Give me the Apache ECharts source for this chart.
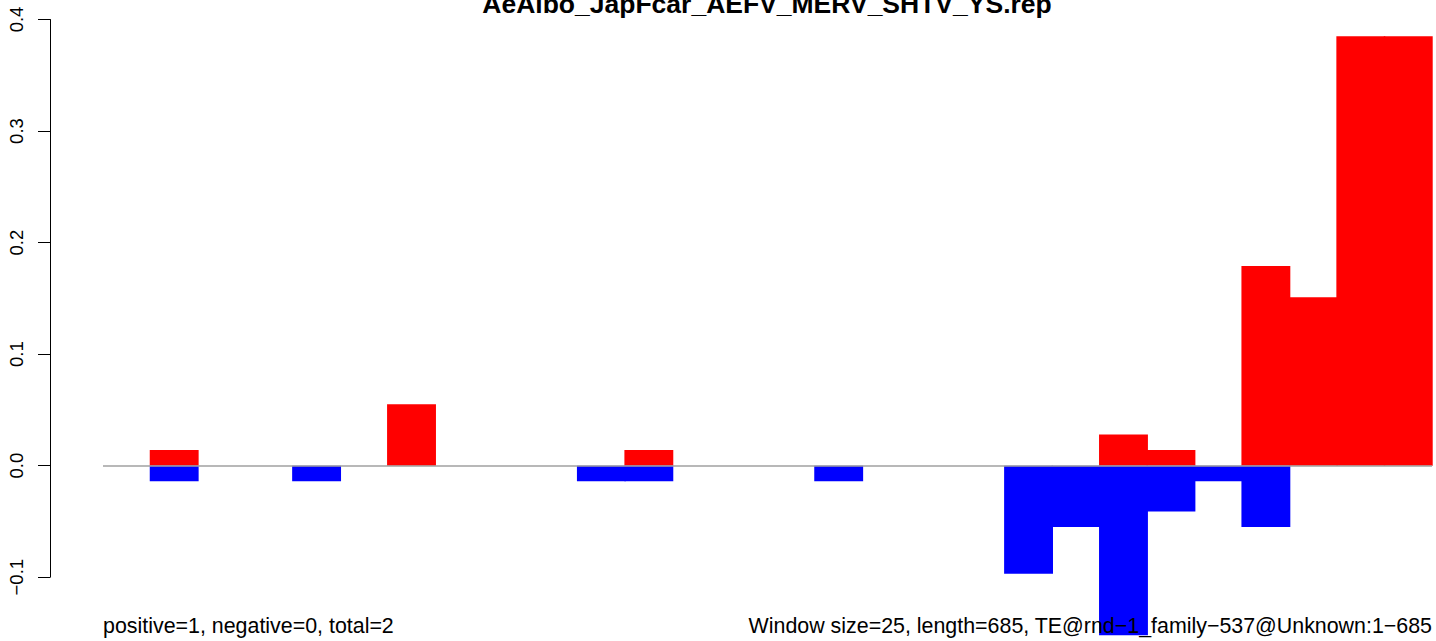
<!DOCTYPE html>
<html>
<head>
<meta charset="utf-8">
<script src="https://cdn.jsdelivr.net/npm/echarts@6/dist/echarts.min.js"></script>
<style>
html,body{margin:0;padding:0;background:#fff;}
#chart{width:1436px;height:641px;}
</style>
</head>
<body>
<div id="chart"></div>
<script>
// window index (28 windows of 25 bp over 685 bp)
const windows = ['1','2','3','4','5','6','7','8','9','10','11','12','13','14','15','16','17','18','19','20','21','22','23','24','25','26','27','28'];
// positive-strand values (red); null = no bar
const positiveValues = [null,0.014,null,null,null,null,0.055,null,null,null,null,0.014,null,null,null,null,null,null,null,null,null,0.028,0.014,null,0.179,0.151,0.385,0.385];
// negative-strand values (blue); null = no bar
const negativeValues = [null,-0.014,null,null,-0.014,null,null,null,null,null,-0.014,-0.014,null,null,null,-0.014,null,null,null,-0.097,-0.055,-0.152,-0.041,-0.014,-0.055,null,null,null];
const yTicks = [-0.1, 0.0, 0.1, 0.2, 0.3, 0.4];
const titleText = 'AeAlbo_JapFcar_AEFV_MERV_SHTV_YS.rep';
const leftNote = 'positive=1, negative=0, total=2';
const rightNote = 'Window size=25, length=685, TE@rnd\u22121_family\u2212537@Unknown:1\u2212685';

const FONT = '"Liberation Sans", Arial, Helvetica, sans-serif';
const chart = echarts.init(document.getElementById('chart'), null, {renderer: 'svg'});
chart.setOption({
  animation: false,
  backgroundColor: '#ffffff',
  grid: {left: 103, right: 4, top: 19.5, bottom: 63.8, containLabel: false},
  xAxis: {
    type: 'category', data: windows, show: false,
    boundaryGap: true
  },
  yAxis: {
    type: 'value', min: yTicks[0], max: yTicks[yTicks.length - 1], interval: 0.1,
    offset: 53,
    axisLine: {show: true, lineStyle: {color: '#000', width: 1}},
    axisTick: {show: true, inside: false, length: 12, lineStyle: {color: '#000', width: 1}},
    splitLine: {show: false},
    axisLabel: {
      rotate: 90, margin: 24, color: '#000', fontSize: 18.5, fontFamily: FONT,
      formatter: v => (v < 0 ? '\u2212' : '') + Math.abs(v).toFixed(1)
    }
  },
  series: [
    {
      type: 'bar', name: 'positive', data: positiveValues, stack: 's',
      barWidth: '103%', barCategoryGap: 0, clip: false,
      itemStyle: {color: '#ff0000'},
      z: 2
    },
    {
      type: 'bar', name: 'negative', data: negativeValues, stack: 's',
      barWidth: '103%', barCategoryGap: 0, clip: false,
      itemStyle: {color: '#0000ff'},
      z: 2,
      markLine: {
        silent: true, symbol: ['none', 'none'], label: {show: false},
        lineStyle: {color: '#a0a0a0', width: 1.5, type: 'solid'},
        data: [{yAxis: 0}], z: 5
      }
    }
  ],
  graphic: [
    {type: 'text', x: 767, y: 3.6, z: 10,
     style: {text: titleText, fill: '#000', font: 'bold 26.5px ' + FONT, align: 'center', verticalAlign: 'middle'}},
    {type: 'text', x: 103, y: 625.6, z: 10,
     style: {text: leftNote, fill: '#000', font: '21.4px ' + FONT, align: 'left', verticalAlign: 'middle'}},
    {type: 'text', x: 1432, y: 625.6, z: 10,
     style: {text: rightNote, fill: '#000', font: '21.4px ' + FONT, align: 'right', verticalAlign: 'middle'}}
  ]
});
</script>
</body>
</html>
